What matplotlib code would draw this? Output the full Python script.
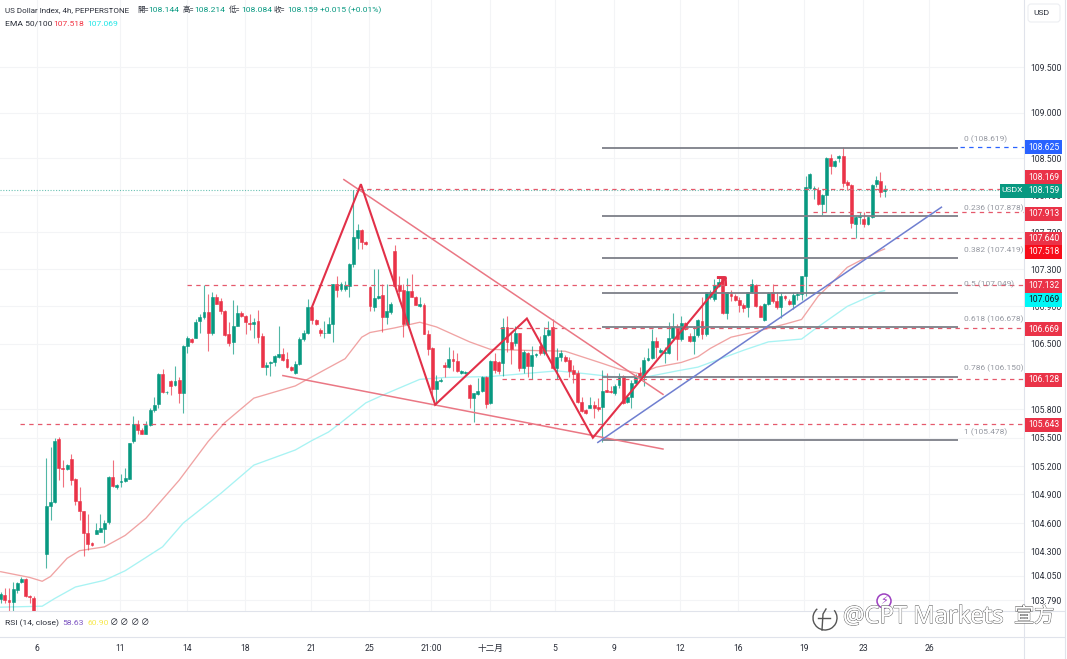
import matplotlib
matplotlib.use('Agg')
import matplotlib.pyplot as plt
import matplotlib.patheffects as pe
from matplotlib.patches import Rectangle, FancyBboxPatch, Circle, Arc
from matplotlib.ticker import NullLocator, NullFormatter

plt.rcParams['font.family'] = ['Roboto', 'Noto Sans CJK TC', 'DejaVu Sans']

opens = [103.80,103.85,103.79,103.77,103.90,103.98,104.01,103.84,103.82,103.58,
         103.50,104.28,104.78,104.82,105.49,105.18,105.17,105.27,105.06,104.83,
         104.73,104.49,104.39,104.48,104.51,104.54,104.61,105.08,104.98,105.03,
         105.04,105.06,105.47,105.65,105.58,105.54,105.63,105.79,105.86,106.18,
         105.98,106.10,106.06,106.11,105.97,106.48,106.55,106.56,106.74,106.79,
         106.84,106.62,107.00,106.96,106.85,106.60,106.52,106.69,106.83,106.80,
         106.72,106.71,106.74,106.58,106.25,106.29,106.31,106.36,106.39,106.34,
         106.25,106.19,106.28,106.55,106.61,106.89,106.75,106.65,106.61,106.62,
         106.71,107.14,107.09,107.09,107.12,107.36,107.64,107.72,107.59,107.11,
         106.89,106.99,107.02,106.79,106.84,107.50,107.13,107.08,106.71,107.07,
         107.00,106.90,106.92,106.60,106.45,106.02,106.10,106.27,106.25,106.34,
         106.32,106.19,106.19,106.06,105.92,105.96,106.00,106.15,105.87,106.32,
         106.31,106.29,106.68,106.52,106.51,106.61,106.24,106.40,106.26,106.38,
         106.48,106.40,106.59,106.68,106.24,106.36,106.36,106.33,106.22,106.19,
         105.88,105.79,105.82,105.85,105.83,105.83,106.01,106.00,105.97,106.06,
         106.16,105.88,105.93,106.08,106.19,106.14,106.33,106.35,106.53,106.41,
         106.40,106.40,106.56,106.68,106.55,106.72,106.58,106.53,106.59,106.74,
         106.60,107.00,106.98,107.12,107.21,106.83,107.03,107.01,106.97,106.92,
         106.89,107.05,107.13,106.90,106.75,106.93,107.05,106.96,106.89,107.01,
         106.96,106.93,107.02,107.03,107.23,108.18,108.17,108.16,108.01,108.10,
         108.50,108.42,108.51,108.53,108.24,108.21,107.79,107.86,107.84,107.79,
         107.86,108.22,108.25,108.144]
highs = [103.88,103.92,103.92,103.98,103.98,104.03,104.02,103.85,103.84,103.60,
         103.64,105.28,105.40,105.50,105.51,105.26,105.22,105.33,105.07,104.98,
         104.73,104.70,104.40,104.60,104.70,104.63,105.09,105.26,105.01,105.12,
         105.18,105.44,105.73,105.69,105.60,105.68,105.81,105.93,106.19,106.23,
         106.00,106.11,106.26,106.14,106.49,106.58,106.56,106.76,106.82,107.13,
         107.03,107.06,107.03,106.99,106.86,106.73,106.97,106.92,106.85,106.81,
         106.82,106.78,106.86,106.62,106.31,106.32,106.38,106.69,106.45,106.41,
         106.26,106.32,106.57,106.65,106.98,106.91,106.76,106.67,106.74,106.79,
         107.14,107.23,107.16,107.17,107.37,108.16,107.79,107.73,107.60,107.12,
         107.30,107.30,107.14,107.14,106.95,107.56,107.23,107.14,107.21,107.25,
         107.01,107.00,106.94,106.65,106.46,106.17,106.13,106.30,106.46,106.43,
         106.40,106.22,106.21,106.07,105.97,106.13,106.16,106.16,106.33,106.40,
         106.32,106.78,106.80,106.62,106.69,106.62,106.43,106.41,106.48,106.40,
         106.58,106.68,106.74,106.76,106.45,106.43,106.38,106.36,106.27,106.22,
         105.93,105.80,105.93,105.89,105.92,106.22,106.19,106.05,106.07,106.19,
         106.17,105.95,106.11,106.18,106.25,106.36,106.45,106.66,106.57,106.45,
         106.46,106.73,106.83,106.71,106.80,106.73,106.62,106.69,106.76,107.00,
         107.06,107.08,107.19,107.20,107.23,107.06,107.08,107.03,107.00,106.94,
         107.06,107.19,107.14,106.91,106.94,107.06,107.14,107.05,107.05,107.02,
         106.98,107.06,107.06,107.23,108.31,108.34,108.20,108.19,108.11,108.52,
         108.55,108.48,108.54,108.62,108.27,108.22,107.87,107.92,107.92,107.88,
         108.22,108.31,108.35,108.214]
lows = [103.76,103.76,103.67,103.68,103.87,103.97,103.83,103.76,103.55,103.40,
        103.42,104.13,104.63,104.81,105.05,104.98,105.16,105.00,104.79,104.63,
        104.25,104.32,104.36,104.48,104.51,104.39,104.59,104.98,104.96,104.98,
        105.03,105.06,105.44,105.54,105.54,105.54,105.62,105.77,105.82,105.97,
        105.96,105.95,106.05,105.87,105.76,106.40,106.51,106.56,106.62,106.76,
        106.42,106.59,106.93,106.82,106.58,106.48,106.39,106.69,106.79,106.60,
        106.65,106.56,106.51,106.25,106.17,106.16,106.26,106.35,106.32,106.24,
        106.21,106.18,106.27,106.53,106.60,106.71,106.70,106.58,106.56,106.61,
        106.52,107.00,107.07,107.07,107.00,107.32,107.52,107.52,107.56,106.85,
        106.85,106.98,106.63,106.71,106.82,107.11,106.96,106.57,106.70,107.00,
        106.91,106.89,106.60,106.38,105.93,105.86,106.09,106.14,106.24,106.21,
        106.20,106.18,106.18,105.82,105.67,105.95,105.99,105.82,105.86,106.19,
        106.18,106.16,106.41,106.28,106.48,106.21,106.19,106.14,106.12,106.36,
        106.38,106.38,106.58,106.23,106.12,106.32,106.30,106.14,106.08,105.87,
        105.77,105.75,105.81,105.71,105.78,105.45,105.98,105.97,105.95,106.03,
        105.86,105.87,105.81,106.06,106.12,106.05,106.32,106.34,106.35,106.40,
        106.29,106.39,106.54,106.33,106.53,106.65,106.52,106.39,106.57,106.55,
        106.58,106.98,106.96,107.11,106.82,106.76,106.96,106.96,106.84,106.84,
        106.79,107.04,106.89,106.79,106.74,106.92,106.94,106.87,106.78,106.97,
        106.92,106.87,106.97,106.97,107.01,108.17,108.06,107.99,107.89,107.92,
        108.33,108.41,108.46,108.19,108.16,107.75,107.64,107.79,107.76,107.78,
        107.85,108.19,108.08,108.084]
closes = [103.86,103.79,103.77,103.91,103.97,104.01,103.84,103.83,103.58,103.50,
          103.62,104.78,104.82,105.47,105.18,105.17,105.21,105.05,104.83,104.73,
          104.49,104.38,104.37,104.53,104.55,104.60,105.08,104.99,105.00,105.04,
          105.07,105.44,105.65,105.58,105.54,105.63,105.79,105.85,106.18,105.98,
          105.99,106.05,106.10,105.97,106.48,106.56,106.52,106.73,106.79,106.84,
          106.61,107.00,106.93,106.85,106.59,106.51,106.69,106.83,106.80,106.73,
          106.71,106.73,106.57,106.25,106.27,106.31,106.37,106.39,106.33,106.25,
          106.22,106.28,106.55,106.61,106.89,106.75,106.71,106.61,106.62,106.71,
          107.14,107.08,107.14,107.13,107.36,107.65,107.72,107.59,107.57,106.90,
          106.99,107.01,106.79,106.85,106.93,107.12,107.07,106.71,107.07,107.00,
          106.92,106.93,106.60,106.44,106.02,106.10,106.11,106.25,106.34,106.32,
          106.21,106.21,106.20,105.92,105.97,106.00,106.15,105.86,106.32,106.22,
          106.21,106.68,106.52,106.44,106.61,106.24,106.41,106.26,106.38,106.39,
          106.40,106.59,106.65,106.24,106.36,106.40,106.32,106.21,106.18,105.88,
          105.78,105.76,105.85,105.82,105.80,106.00,105.99,105.99,106.05,106.16,
          105.87,105.93,106.08,106.16,106.14,106.33,106.35,106.53,106.46,106.43,
          106.41,106.56,106.68,106.55,106.72,106.66,106.53,106.58,106.75,106.60,
          107.05,107.05,107.13,107.16,106.83,107.05,107.01,106.97,106.91,106.88,
          107.05,107.14,106.90,106.79,106.93,107.04,106.96,106.89,107.01,106.99,
          106.93,107.02,107.03,107.23,108.19,108.33,108.18,108.00,108.10,108.51,
          108.42,108.47,108.53,108.23,108.21,107.80,107.86,107.88,107.79,107.86,
          108.21,108.27,108.14,108.159]

ema50_bars = [0,7,10,12,16,19,25,30,35,43,50,54,61,71,78,83,87,89,95,101,105,113,118,
              126,136,145,149,154,158,164,168,171,176,182,189,193,197,200,204,207,212,213]
ema50 = [104.09,104.03,103.99,104.04,104.23,104.31,104.35,104.47,104.65,105.05,105.46,
         105.66,105.92,106.05,106.22,106.34,106.57,106.62,106.67,106.73,106.68,106.52,
         106.44,106.43,106.42,106.29,106.23,106.18,106.25,106.30,106.36,106.45,106.57,
         106.63,106.71,106.76,107.01,107.14,107.32,107.39,107.50,107.518]
ema100_bars = [0,10,13,18,25,30,39,44,53,61,71,75,79,82,88,93,101,107,118,126,134,141,
               147,155,163,168,179,185,193,196,204,212,213]
ema100 = [103.72,103.73,103.81,103.93,104.00,104.10,104.35,104.60,104.91,105.21,105.37,
          105.47,105.56,105.66,105.87,105.97,106.12,106.14,106.15,106.18,106.21,106.18,
          106.15,106.14,106.21,106.25,106.43,106.52,106.55,106.65,106.90,107.06,107.069]

zigzag_bars = [74.9,86.8,104.7,126.8,142.7,174.7,172.6,174.7,174.8]
zigzag_prices = [106.88,108.22,105.85,106.77,105.50,107.21,107.21,107.21,107.13]
wedge_low_bars = [68,159.6]
wedge_low_prices = [106.16,105.38]
wedge_high_bars = [82.7,159.6]
wedge_high_prices = [108.27,105.96]
trend_bars = [143.9,226.7]
trend_prices = [105.45,107.97]

fib_ratios = ['0','0.236','0.382','0.5','0.618','0.786','1']
fib_prices = [108.619,107.878,107.419,107.049,106.678,106.150,105.478]
fib_from, fib_to = 144.8, 230.7

level_prices = [108.169,107.913,107.640,107.132,106.669,106.128,105.643]
level_starts = [86,195.7,93.1,44.9,120.3,120.8,4.6]
last_close = closes[-1]
fib_high_tag = 108.625

price_ticks = [109.5,109.0,108.5,108.1,107.7,107.3,106.9,106.5,105.8,105.5,105.2,104.9,104.6,104.3,104.05,103.79]
time_ticks = [8.75,28.75,44.9,58.9,74.8,88.75,103.7,117.9,133.6,147.8,163.7,177.7,193.6,207.8,223.7]
time_labels = ['6','11','14','18','21','25','21:00','十二月','5','9','12','16','19','23','26']

UP = '#089981'
DOWN = '#ea3348'
TAG_RED = '#ea3348'
TEXT = '#2a2e39'
GRID = '#f3f4f6'
BORDER = '#e0e3eb'
W, H = 1067, 659

fig = plt.figure(figsize=(W / 100, H / 100), dpi=100, facecolor='white')
ax = fig.add_axes([0, (H - 611) / H, 1024 / W, 611 / H])
ax.set_yscale('log')
ax.set_xlim(-0.17, 246.6)
ax.set_ylim(103.68, 110.24)

ax.yaxis.set_minor_locator(NullLocator())
ax.yaxis.set_minor_formatter(NullFormatter())
ax.yaxis.tick_right()
ax.set_yticks(price_ticks)
ax.set_yticklabels([f'{p:.3f}' for p in price_ticks])
ax.set_xticks(time_ticks)
ax.set_xticklabels(time_labels)
ax.tick_params(axis='y', length=0, pad=4.5, labelsize=6.2, labelcolor=TEXT)
ax.tick_params(axis='x', length=0, pad=24, labelsize=6.2, labelcolor=TEXT)
ax.grid(True, color=GRID, linewidth=0.8)
ax.set_axisbelow(True)
for side in ['top', 'left', 'bottom']:
    ax.spines[side].set_visible(False)
ax.spines['right'].set_color(BORDER)
ax.spines['right'].set_linewidth(0.8)

# indicator lines under the candles
ax.plot(ema50_bars, ema50, color='#f0a3a3', lw=0.95, zorder=2)
ax.plot(ema100_bars, ema100, color='#a8f3f3', lw=0.95, zorder=2)

# candles
for i, (o, h, l, c) in enumerate(zip(opens, highs, lows, closes)):
    col = UP if c >= o else DOWN
    ax.vlines(i, l, h, color=col, lw=0.8, alpha=0.7, zorder=3)
    ax.bar(i, abs(c - o), bottom=min(o, c), width=0.7, color=col, edgecolor=col, linewidth=0.4, zorder=4)

# horizontal levels and the live price line
ax.axhline(last_close, color=UP, lw=0.8, ls=(0, (1, 1.5)), alpha=0.6, zorder=2)
ax.hlines(level_prices, level_starts, 246.6, color='#e5596c', lw=0.9, ls=(0, (3.5, 3.5)), zorder=5)
ax.hlines(fib_high_tag, 231.2, 246.6, color='#2962ff', lw=0.9, ls=(0, (3.5, 3.5)), zorder=5)

# fibonacci retracement
ax.hlines(fib_prices, fib_from, fib_to, color='#7d7f88', lw=1.3, zorder=5)
for ratio, price in zip(fib_ratios, fib_prices):
    ax.annotate(f'{ratio} ({price:.3f})', (fib_to, price), xytext=(4, 3), textcoords='offset points',
                fontsize=6.0, color='#9598a1', va='bottom', ha='left', zorder=6)

# hand drawn lines
ax.plot(wedge_low_bars, wedge_low_prices, color='#ea7784', lw=1.1, zorder=5)
ax.plot(wedge_high_bars, wedge_high_prices, color='#ea7784', lw=1.1, zorder=5)
ax.plot(trend_bars, trend_prices, color='#6f7fd0', lw=1.1, zorder=5)
ax.plot(zigzag_bars, zigzag_prices, color='#e23048', lw=1.5, solid_joinstyle='miter', zorder=6)

# pixel space layer for the header, price tags and panes
top = fig.add_axes([0, 0, 1, 1], facecolor='none')
top.set_xlim(0, W)
top.set_ylim(H, 0)
top.axis('off')


def put(x, y, s, color=TEXT, size=6.1, **kw):
    top.text(x, y, s, color=color, fontsize=size, va='center', ha=kw.pop('ha', 'left'), **kw)


def tag(y, value, color=TAG_RED, text='white'):
    top.add_patch(Rectangle((1025, y - 7), 37, 14, color=color, lw=0))
    put(1043.5, y, f'{value:.3f}', color=text, ha='center', size=6.2)


# header lines
put(5, 10, 'US Dollar Index, 4h, PEPPERSTONE', size=5.8)
for x, s in [(137, '開='), (183, '高='), (229, '低='), (274, '收=')]:
    put(x, 10, s, size=5.4)
for x, s in [(148, f'{opens[-1]:.3f}'), (194, f'{highs[-1]:.3f}'), (241, f'{lows[-1]:.3f}'),
             (287, f'{closes[-1]:.3f}'), (320, '+0.015 (+0.01%)')]:
    put(x, 10, s, color=UP)
put(5, 24, 'EMA 50/100')
put(53, 24, f'{ema50[-1]:.3f}', color='#f23645')
put(87, 24, f'{ema100[-1]:.3f}', color='#22e6e6')

# currency button
top.add_patch(FancyBboxPatch((1028, 4), 32, 18, boxstyle='round,pad=0,rounding_size=3',
                             fc='white', ec='#eceef2', lw=0.8))
put(1033, 13, 'USD')

# price tags, stacked so they do not collide
tag(147, fib_high_tag, color='#2962ff')
tag(177, level_prices[0])
tag(190.5, last_close, color=UP)
top.add_patch(Rectangle((1000, 183.5), 25, 14, color=UP, lw=0))
put(1012.5, 190.5, 'USDX', color='white', ha='center')
tag(213.5, level_prices[1])
tag(238.5, level_prices[2])
tag(252, ema50[-1], color='#f70d1a')
tag(286, level_prices[3])
tag(299.5, ema100[-1], color='#00f7f7', text='#131722')
tag(329, level_prices[4])
tag(380, level_prices[5])
tag(424.5, level_prices[6])

# rsi pane strip and axis borders
top.plot([0, 1064], [611, 611], color=BORDER, lw=0.8)
top.plot([0, 1064], [637, 637], color=BORDER, lw=0.8)
top.plot([1024.4, 1024.4], [611, 659], color=BORDER, lw=0.8)
top.plot([1064.5, 1064.5], [0, 659], color=BORDER, lw=0.8)
put(5, 623, 'RSI (14, close)')
put(62, 623, '58.63', color='#7e57c2')
put(87, 623, '60.90', color='#f7e84a')
for x in [114, 124.5, 135, 145.5]:
    put(x, 623, '∅', ha='center')

# event marker
top.add_patch(Circle((884, 601), 7, fc='white', ec='#9c3fc0', lw=1.1))
put(884, 601, '⚡', color='#9c3fc0', size=8, ha='center', family='DejaVu Sans')

# outlined watermark
mark = [pe.withStroke(linewidth=0.9, foreground='#666666'), pe.Normal()]
for x, s, size in [(843, '@CPT Markets', 17.2), (1014, '宣方', 14.5)]:
    txt = top.text(x, 617, s, fontsize=size, color='white', va='center', ha='left',
                   family=['Open Sans', 'Noto Sans CJK SC'], zorder=10)
    txt.set_path_effects(mark)
top.add_patch(Arc((825, 618), 24, 24, theta1=-40, theta2=230, color='#555555', lw=1.0, zorder=10))
top.plot([826, 823, 822], [609, 614, 630], color='#555555', lw=1.0, zorder=10)
top.plot([818, 830], [618, 618], color='#555555', lw=1.0, zorder=10)

fig.savefig('out.png', dpi=100)
